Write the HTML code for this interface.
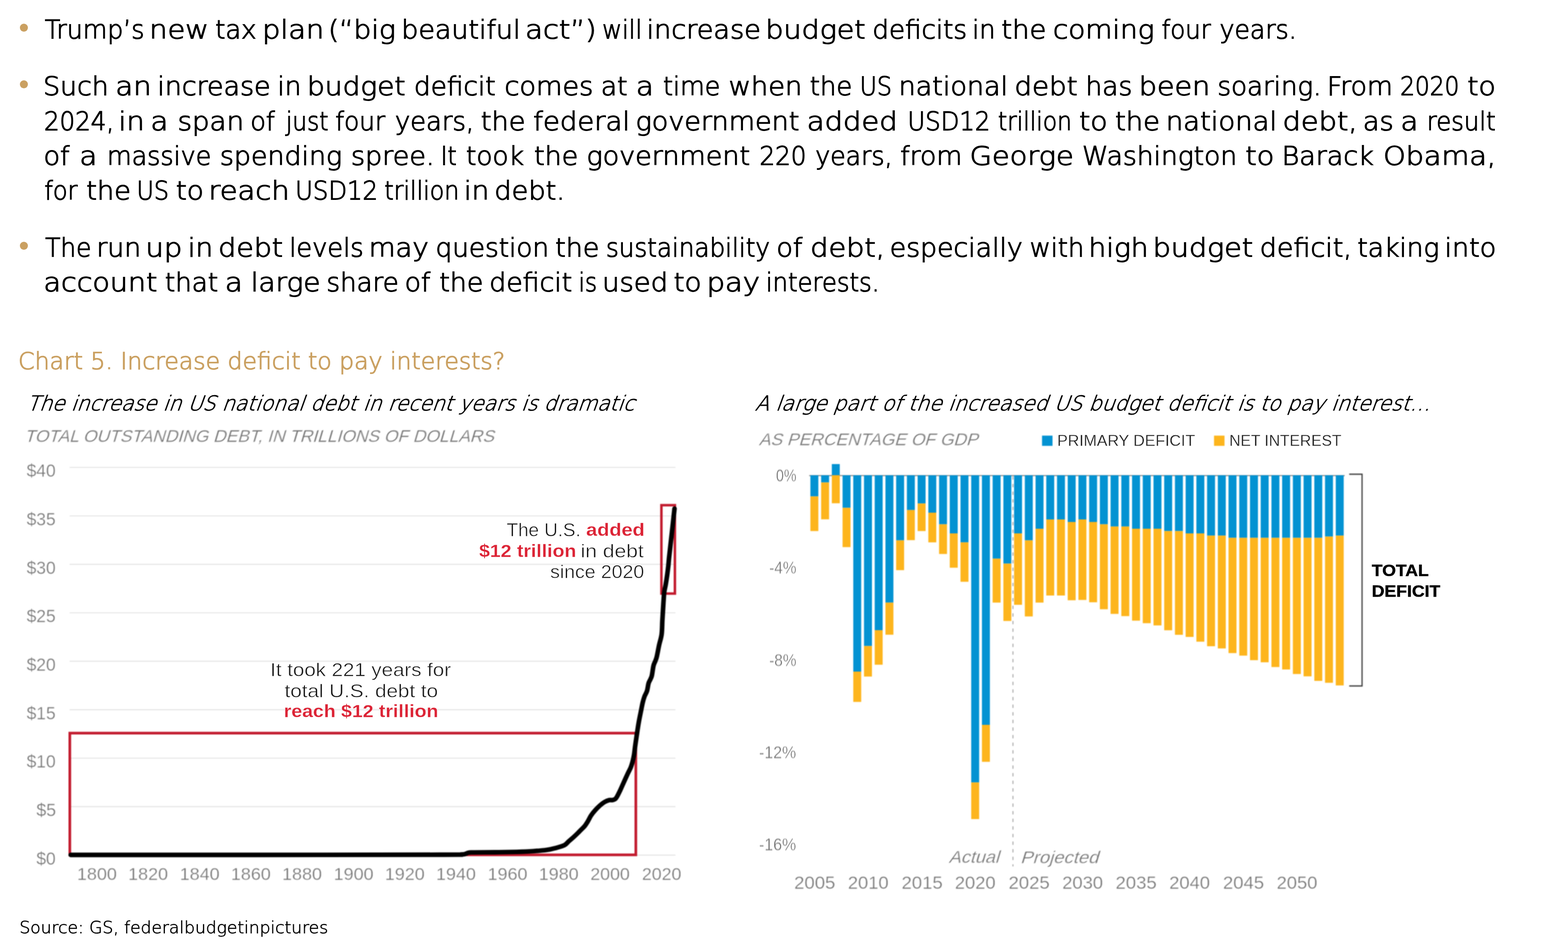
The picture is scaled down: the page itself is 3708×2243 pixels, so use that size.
<!DOCTYPE html>
<html lang="en">
<head>
<meta charset="utf-8">
<title>Chart 5. Increase deficit to pay interests?</title>
<style>
html,body{margin:0;padding:0;background:#fff}
body{width:3708px;height:2243px;position:relative;overflow:hidden;font-family:"Liberation Sans",sans-serif}
ul,li,h2,figure,figcaption,footer,p{margin:0;padding:0;list-style:none;font-weight:inherit;font-size:inherit}
.t{position:absolute;white-space:pre;line-height:1;transform-origin:0 0;display:block}
b{font-weight:700}
.b{font-family:'DejaVu Sans Light','DejaVu Sans','Liberation Sans',sans-serif;font-weight:200;font-size:61.2px;color:#000;-webkit-text-stroke:1.9px #000}
.dot{position:absolute;width:19.2px;height:19.2px;border-radius:50%;background:#caa061}
svg{position:absolute;left:0;top:0;overflow:visible;filter:blur(0.85px)}
</style>
</head>
<body>
<ul class="bullets">
<li><i class="dot" style="left:47.2px;top:55.7px"></i><span class="ln"><span class="t b" style="left:105.50px;top:38.90px;transform:scaleX(0.97280);">Trump’s</span> <span class="t b" style="left:353.33px;top:38.90px;transform:scaleX(1.11207);">new</span> <span class="t b" style="left:509.00px;top:38.90px;transform:scaleX(0.99787);">tax</span> <span class="t b" style="left:620.15px;top:38.90px;transform:scaleX(1.10826);">plan</span> <span class="t b" style="left:776.42px;top:38.90px;transform:scaleX(1.07986);">(“big</span> <span class="t b" style="left:948.76px;top:38.90px;transform:scaleX(1.03977);">beautiful</span> <span class="t b" style="left:1241.82px;top:38.90px;transform:scaleX(1.12000);">act”)</span> <span class="t b" style="left:1423.79px;top:38.90px;transform:scaleX(0.93696);">will</span> <span class="t b" style="left:1528.51px;top:38.90px;transform:scaleX(1.04798);">increase</span> <span class="t b" style="left:1810.09px;top:38.90px;transform:scaleX(1.10242);">budget</span> <span class="t b" style="left:2062.86px;top:38.90px;transform:scaleX(1.01028);">deficits</span> <span class="t b" style="left:2299.18px;top:38.90px;transform:scaleX(0.98636);">in</span> <span class="t b" style="left:2368.38px;top:38.90px;transform:scaleX(1.05895);">the</span> <span class="t b" style="left:2489.87px;top:38.90px;transform:scaleX(1.07512);">coming</span> <span class="t b" style="left:2746.51px;top:38.90px;transform:scaleX(0.94590);">four</span> <span class="t b" style="left:2883.86px;top:38.90px;transform:scaleX(0.97151);">years.</span></span>
</li>
<li><i class="dot" style="left:47.2px;top:190.1px"></i><span class="ln"><span class="t b" style="left:102.37px;top:172.80px;transform:scaleX(1.03256);">Such</span> <span class="t b" style="left:273.43px;top:172.80px;transform:scaleX(1.11778);">an</span> <span class="t b" style="left:372.37px;top:172.80px;transform:scaleX(1.03867);">increase</span> <span class="t b" style="left:655.91px;top:172.80px;transform:scaleX(1.01570);">in</span> <span class="t b" style="left:726.00px;top:172.80px;transform:scaleX(1.08401);">budget</span> <span class="t b" style="left:978.63px;top:172.80px;transform:scaleX(1.01734);">deficit</span> <span class="t b" style="left:1192.55px;top:172.80px;transform:scaleX(1.04892);">comes</span> <span class="t b" style="left:1420.91px;top:172.80px;transform:scaleX(1.02305);">at</span> <span class="t b" style="left:1503.62px;top:172.80px;transform:scaleX(1.12000);">a</span> <span class="t b" style="left:1568.04px;top:172.80px;transform:scaleX(0.97963);">time</span> <span class="t b" style="left:1722.94px;top:172.80px;transform:scaleX(1.05408);">when</span> <span class="t b" style="left:1915.40px;top:172.80px;transform:scaleX(0.99991);">the</span> <span class="t b" style="left:2032.74px;top:172.80px;transform:scaleX(0.91069);">US</span> <span class="t b" style="left:2125.14px;top:172.80px;transform:scaleX(1.04361);">national</span> <span class="t b" style="left:2399.22px;top:172.80px;transform:scaleX(1.07008);">debt</span> <span class="t b" style="left:2566.57px;top:172.80px;transform:scaleX(1.02112);">has</span> <span class="t b" style="left:2692.97px;top:172.80px;transform:scaleX(1.10487);">been</span> <span class="t b" style="left:2879.27px;top:172.80px;transform:scaleX(1.00851);">soaring.</span> <span class="t b" style="left:3137.93px;top:172.80px;transform:scaleX(1.02779);">From</span> <span class="t b" style="left:3311.10px;top:172.80px;transform:scaleX(0.90000);">2020</span> <span class="t b" style="left:3470.21px;top:172.80px;transform:scaleX(1.09286);">to</span></span>
<span class="ln"><span class="t b" style="left:103.86px;top:256.10px;transform:scaleX(0.94647);">2024,</span> <span class="t b" style="left:280.34px;top:256.10px;transform:scaleX(1.11063);">in</span> <span class="t b" style="left:355.52px;top:256.10px;transform:scaleX(1.12000);">a</span> <span class="t b" style="left:419.69px;top:256.10px;transform:scaleX(1.06883);">span</span> <span class="t b" style="left:591.68px;top:256.10px;transform:scaleX(0.97978);">of</span> <span class="t b" style="left:676.40px;top:256.10px;transform:scaleX(0.90000);">just</span> <span class="t b" style="left:793.48px;top:256.10px;transform:scaleX(0.95793);">four</span> <span class="t b" style="left:934.41px;top:256.10px;transform:scaleX(0.99591);">years,</span> <span class="t b" style="left:1136.70px;top:256.10px;transform:scaleX(1.05229);">the</span> <span class="t b" style="left:1260.77px;top:256.10px;transform:scaleX(1.06313);">federal</span> <span class="t b" style="left:1502.92px;top:256.10px;transform:scaleX(1.04430);">government</span> <span class="t b" style="left:1907.92px;top:256.10px;transform:scaleX(1.12000);">added</span> <span class="t b" style="left:2145.87px;top:256.10px;transform:scaleX(0.93822);">USD12</span> <span class="t b" style="left:2359.59px;top:256.10px;transform:scaleX(0.90467);">trillion</span> <span class="t b" style="left:2551.62px;top:256.10px;transform:scaleX(1.09228);">to</span> <span class="t b" style="left:2636.99px;top:256.10px;transform:scaleX(1.05545);">the</span> <span class="t b" style="left:2757.14px;top:256.10px;transform:scaleX(1.06046);">national</span> <span class="t b" style="left:3033.44px;top:256.10px;transform:scaleX(1.11600);">debt,</span> <span class="t b" style="left:3223.01px;top:256.10px;transform:scaleX(1.04787);">as</span> <span class="t b" style="left:3311.82px;top:256.10px;transform:scaleX(1.12000);">a</span> <span class="t b" style="left:3373.55px;top:256.10px;transform:scaleX(0.94121);">result</span></span>
<span class="ln"><span class="t b" style="left:103.03px;top:338.20px;transform:scaleX(1.04225);">of</span> <span class="t b" style="left:188.32px;top:338.20px;transform:scaleX(1.12000);">a</span> <span class="t b" style="left:253.42px;top:338.20px;transform:scaleX(0.97961);">massive</span> <span class="t b" style="left:520.49px;top:338.20px;transform:scaleX(1.03811);">spending</span> <span class="t b" style="left:830.07px;top:338.20px;transform:scaleX(1.04339);">spree.</span> <span class="t b" style="left:1041.80px;top:338.20px;transform:scaleX(0.90000);">It</span> <span class="t b" style="left:1101.56px;top:338.20px;transform:scaleX(1.01944);">took</span> <span class="t b" style="left:1263.32px;top:338.20px;transform:scaleX(1.03859);">the</span> <span class="t b" style="left:1387.13px;top:338.20px;transform:scaleX(1.04265);">government</span> <span class="t b" style="left:1796.25px;top:338.20px;transform:scaleX(0.95106);">220</span> <span class="t b" style="left:1928.05px;top:338.20px;transform:scaleX(0.97299);">years,</span> <span class="t b" style="left:2129.34px;top:338.20px;transform:scaleX(1.02864);">from</span> <span class="t b" style="left:2293.04px;top:338.20px;transform:scaleX(1.11439);">George</span> <span class="t b" style="left:2559.02px;top:338.20px;transform:scaleX(1.02569);">Washington</span> <span class="t b" style="left:2945.07px;top:338.20px;transform:scaleX(1.11368);">to</span> <span class="t b" style="left:3030.67px;top:338.20px;transform:scaleX(1.03875);">Barack</span> <span class="t b" style="left:3270.57px;top:338.20px;transform:scaleX(1.10696);">Obama,</span></span>
<span class="ln"><span class="t b" style="left:105.34px;top:419.80px;transform:scaleX(0.93012);">for</span> <span class="t b" style="left:204.30px;top:419.80px;transform:scaleX(1.05053);">the</span> <span class="t b" style="left:322.71px;top:419.80px;transform:scaleX(0.91486);">US</span> <span class="t b" style="left:415.76px;top:419.80px;transform:scaleX(1.07143);">to</span> <span class="t b" style="left:493.18px;top:419.80px;transform:scaleX(1.12000);">reach</span> <span class="t b" style="left:697.67px;top:419.80px;transform:scaleX(0.93889);">USD12</span> <span class="t b" style="left:909.37px;top:419.80px;transform:scaleX(0.91613);">trillion</span> <span class="t b" style="left:1097.14px;top:419.80px;transform:scaleX(1.07727);">in</span> <span class="t b" style="left:1168.79px;top:419.80px;transform:scaleX(1.05135);">debt.</span></span>
</li>
<li><i class="dot" style="left:47.2px;top:571.6px"></i><span class="ln"><span class="t b" style="left:106.50px;top:554.70px;transform:scaleX(0.95812);">The</span> <span class="t b" style="left:227.93px;top:554.70px;transform:scaleX(1.02850);">run</span> <span class="t b" style="left:344.30px;top:554.70px;transform:scaleX(1.12000);">up</span> <span class="t b" style="left:444.15px;top:554.70px;transform:scaleX(1.07484);">in</span> <span class="t b" style="left:515.70px;top:554.70px;transform:scaleX(1.09995);">debt</span> <span class="t b" style="left:683.75px;top:554.70px;transform:scaleX(0.99163);">levels</span> <span class="t b" style="left:872.12px;top:554.70px;transform:scaleX(1.06315);">may</span> <span class="t b" style="left:1029.54px;top:554.70px;transform:scaleX(1.01566);">question</span> <span class="t b" style="left:1312.72px;top:554.70px;transform:scaleX(1.03782);">the</span> <span class="t b" style="left:1432.74px;top:554.70px;transform:scaleX(0.95172);">sustainability</span> <span class="t b" style="left:1836.24px;top:554.70px;transform:scaleX(1.04095);">of</span> <span class="t b" style="left:1916.45px;top:554.70px;transform:scaleX(1.11212);">debt,</span> <span class="t b" style="left:2103.57px;top:554.70px;transform:scaleX(1.03320);">especially</span> <span class="t b" style="left:2434.82px;top:554.70px;transform:scaleX(0.99333);">with</span> <span class="t b" style="left:2573.71px;top:554.70px;transform:scaleX(1.08244);">high</span> <span class="t b" style="left:2725.68px;top:554.70px;transform:scaleX(1.10383);">budget</span> <span class="t b" style="left:2978.83px;top:554.70px;transform:scaleX(1.04239);">deficit,</span> <span class="t b" style="left:3209.55px;top:554.70px;transform:scaleX(1.02279);">taking</span> <span class="t b" style="left:3415.75px;top:554.70px;transform:scaleX(1.04206);">into</span></span>
<span class="ln"><span class="t b" style="left:102.79px;top:636.80px;transform:scaleX(1.10294);">account</span> <span class="t b" style="left:389.68px;top:636.80px;transform:scaleX(1.01240);">that</span> <span class="t b" style="left:531.72px;top:636.80px;transform:scaleX(1.12000);">a</span> <span class="t b" style="left:592.63px;top:636.80px;transform:scaleX(1.07832);">large</span> <span class="t b" style="left:772.28px;top:636.80px;transform:scaleX(1.00798);">share</span> <span class="t b" style="left:957.49px;top:636.80px;transform:scaleX(1.02679);">of</span> <span class="t b" style="left:1039.03px;top:636.80px;transform:scaleX(1.03579);">the</span> <span class="t b" style="left:1157.37px;top:636.80px;transform:scaleX(1.03370);">deficit</span> <span class="t b" style="left:1368.30px;top:636.80px;transform:scaleX(0.90000);">is</span> <span class="t b" style="left:1423.80px;top:636.80px;transform:scaleX(1.05956);">used</span> <span class="t b" style="left:1593.05px;top:636.80px;transform:scaleX(1.07321);">to</span> <span class="t b" style="left:1670.58px;top:636.80px;transform:scaleX(1.12000);">pay</span> <span class="t b" style="left:1811.06px;top:636.80px;transform:scaleX(0.93956);">interests.</span></span>
</li>
</ul>
<h2><span class="t" style="left:42.68px;top:827.20px;font-family:'DejaVu Sans Light','DejaVu Sans','Liberation Sans',sans-serif;font-weight:200;font-size:55.4px;color:#caa061;-webkit-text-stroke:1.7px #caa061;transform:scaleX(1.00572);">Chart 5. Increase deficit to pay interests?</span></h2>
<figure class="chart-left">
<figcaption><span class="t" style="left:78.48px;top:930.00px;font-family:'DejaVu Sans Light','DejaVu Sans','Liberation Sans',sans-serif;font-weight:200;font-size:48.3px;color:#000;-webkit-text-stroke:1.25px #000;transform:scaleX(0.99182) skewX(-20deg);">The increase in US national debt in recent years is dramatic</span></figcaption>
<span class="t" style="left:67.02px;top:1013.00px;font-family:'Liberation Sans',sans-serif;font-weight:400;font-size:40.2px;color:#6f6f6f;-webkit-text-stroke:0.7px #fff;transform:scaleX(1.02324) skewX(-16deg);filter:blur(0.85px);">TOTAL OUTSTANDING DEBT, IN TRILLIONS OF DOLLARS</span>
<svg width="3708" height="2243" viewBox="0 0 3708 2243">
<g fill="none" stroke="#dedede" stroke-width="1.9"><path d="M164.6 1105.9H1597.4"/><path d="M164.6 1220.6H1597.4"/><path d="M164.6 1335.2H1597.4"/><path d="M164.6 1449.9H1597.4"/><path d="M164.6 1564.5H1597.4"/><path d="M164.6 1679.2H1597.4"/><path d="M164.6 1793.9H1597.4"/><path d="M164.6 1908.5H1597.4"/><path d="M164.6 2023.2H1597.4"/></g>
<rect x="165.1" y="1734.6" width="1338.5" height="288.0" fill="none" stroke="#c21b2e" stroke-width="6.3"/>
<rect x="1564.1" y="1195.3" width="31.9" height="209.1" fill="none" stroke="#c21b2e" stroke-width="5.9"/>
<path d="M167.2 2022.7C239.3 2022.7 454.5 2022.8 600.0 2022.7C745.5 2022.6 958.0 2022.5 1040.0 2022.3C1122.0 2022.1 1081.5 2022.1 1091.9 2021.7C1102.3 2021.3 1098.6 2020.5 1102.3 2019.7C1106.0 2018.9 1102.7 2017.4 1114.0 2016.9C1125.3 2016.4 1151.9 2016.7 1169.9 2016.5C1187.9 2016.3 1206.7 2016.0 1221.8 2015.6C1236.9 2015.2 1248.9 2014.7 1260.8 2013.9C1272.7 2013.1 1284.5 2012.1 1293.2 2010.9C1301.9 2009.7 1305.8 2008.7 1312.7 2006.8C1319.6 2004.9 1329.4 2002.3 1334.8 1999.6C1340.2 1996.9 1341.5 1993.6 1345.0 1990.5C1348.5 1987.4 1352.3 1984.3 1356.0 1981.0C1359.7 1977.7 1364.1 1973.4 1367.0 1970.5C1369.9 1967.6 1370.9 1966.4 1373.5 1963.8C1376.1 1961.2 1379.8 1958.0 1382.5 1954.7C1385.2 1951.4 1387.2 1948.0 1389.8 1943.8C1392.4 1939.6 1394.9 1933.8 1397.9 1929.3C1400.9 1924.8 1404.4 1920.6 1407.9 1916.7C1411.4 1912.8 1415.2 1909.0 1418.8 1905.8C1422.4 1902.6 1426.0 1899.7 1429.6 1897.6C1433.2 1895.5 1437.5 1893.8 1440.5 1893.1C1443.5 1892.3 1445.4 1893.5 1447.8 1893.1C1450.2 1892.6 1453.0 1891.9 1455.0 1890.4C1457.0 1888.9 1457.5 1887.6 1459.5 1884.1C1461.5 1880.6 1464.2 1875.0 1466.8 1869.6C1469.4 1864.1 1472.0 1857.8 1474.9 1851.4C1477.8 1845.1 1481.2 1837.5 1484.0 1831.5C1486.8 1825.5 1489.8 1820.3 1491.8 1815.2C1493.8 1810.1 1495.0 1805.5 1496.3 1800.7C1497.6 1795.9 1498.5 1791.6 1499.4 1786.2C1500.3 1780.8 1501.0 1773.3 1501.7 1768.1C1502.4 1762.9 1502.7 1760.6 1503.5 1755.0C1504.3 1749.4 1505.3 1742.5 1506.5 1734.6C1507.7 1726.7 1509.1 1716.6 1510.8 1707.4C1512.5 1698.2 1514.9 1686.8 1516.4 1679.3C1517.9 1671.8 1518.6 1667.4 1519.9 1662.1C1521.2 1656.8 1522.5 1652.1 1524.2 1647.6C1525.9 1643.1 1528.4 1640.0 1530.0 1634.9C1531.6 1629.8 1532.4 1621.3 1533.7 1616.8C1535.0 1612.3 1536.5 1610.8 1537.8 1607.8C1539.1 1604.8 1540.1 1604.2 1541.4 1598.7C1542.7 1593.2 1544.0 1580.8 1545.4 1575.1C1546.8 1569.4 1548.3 1567.9 1549.6 1564.3C1550.9 1560.7 1551.7 1559.8 1553.2 1553.4C1554.7 1547.1 1556.8 1535.0 1558.7 1526.2C1560.6 1517.5 1563.3 1510.5 1564.6 1500.9C1565.9 1491.3 1565.8 1477.7 1566.3 1468.8C1566.8 1459.9 1567.2 1454.4 1567.6 1447.3C1568.0 1440.2 1568.4 1433.1 1568.9 1425.9C1569.4 1418.8 1569.9 1409.8 1570.4 1404.4C1570.9 1399.0 1571.4 1397.3 1572.1 1393.7C1572.8 1390.1 1573.4 1388.3 1574.3 1382.9C1575.2 1377.5 1576.6 1368.7 1577.6 1361.5C1578.6 1354.3 1579.5 1347.1 1580.3 1340.0C1581.1 1332.9 1581.2 1329.5 1582.3 1318.8C1583.4 1308.1 1585.5 1290.2 1587.1 1275.9C1588.7 1261.6 1590.6 1245.0 1591.9 1232.9C1593.2 1220.8 1594.6 1208.3 1595.1 1203.4" fill="none" stroke="#000" stroke-width="10.9" stroke-linejoin="round" stroke-linecap="round"/>
</svg>
<span class="t" style="left:63.42px;top:1093.30px;font-family:'Liberation Sans',sans-serif;font-weight:400;font-size:42px;color:#6f6f6f;-webkit-text-stroke:0.7px #fff;transform:scaleX(0.97910);filter:blur(0.85px);">$40</span><span class="t" style="left:63.42px;top:1207.96px;font-family:'Liberation Sans',sans-serif;font-weight:400;font-size:42px;color:#6f6f6f;-webkit-text-stroke:0.7px #fff;transform:scaleX(0.97910);filter:blur(0.85px);">$35</span><span class="t" style="left:63.42px;top:1322.62px;font-family:'Liberation Sans',sans-serif;font-weight:400;font-size:42px;color:#6f6f6f;-webkit-text-stroke:0.7px #fff;transform:scaleX(0.97910);filter:blur(0.85px);">$30</span><span class="t" style="left:63.42px;top:1437.28px;font-family:'Liberation Sans',sans-serif;font-weight:400;font-size:42px;color:#6f6f6f;-webkit-text-stroke:0.7px #fff;transform:scaleX(0.97910);filter:blur(0.85px);">$25</span><span class="t" style="left:63.42px;top:1551.94px;font-family:'Liberation Sans',sans-serif;font-weight:400;font-size:42px;color:#6f6f6f;-webkit-text-stroke:0.7px #fff;transform:scaleX(0.97910);filter:blur(0.85px);">$20</span><span class="t" style="left:63.42px;top:1666.60px;font-family:'Liberation Sans',sans-serif;font-weight:400;font-size:42px;color:#6f6f6f;-webkit-text-stroke:0.7px #fff;transform:scaleX(0.97910);filter:blur(0.85px);">$15</span><span class="t" style="left:63.42px;top:1781.26px;font-family:'Liberation Sans',sans-serif;font-weight:400;font-size:42px;color:#6f6f6f;-webkit-text-stroke:0.7px #fff;transform:scaleX(0.97910);filter:blur(0.85px);">$10</span><span class="t" style="left:86.00px;top:1895.92px;font-family:'Liberation Sans',sans-serif;font-weight:400;font-size:42px;color:#6f6f6f;-webkit-text-stroke:0.7px #fff;filter:blur(0.85px);">$5</span><span class="t" style="left:86.02px;top:2010.58px;font-family:'Liberation Sans',sans-serif;font-weight:400;font-size:42px;color:#6f6f6f;-webkit-text-stroke:0.7px #fff;transform:scaleX(0.97727);filter:blur(0.85px);">$0</span>
<span class="t" style="left:181.83px;top:2047.20px;font-family:'Liberation Sans',sans-serif;font-weight:400;font-size:41.5px;color:#6f6f6f;-webkit-text-stroke:0.7px #fff;transform:scaleX(1.02299);filter:blur(0.85px);">1800</span><span class="t" style="left:303.19px;top:2047.20px;font-family:'Liberation Sans',sans-serif;font-weight:400;font-size:41.5px;color:#6f6f6f;-webkit-text-stroke:0.7px #fff;transform:scaleX(1.02299);filter:blur(0.85px);">1820</span><span class="t" style="left:424.55px;top:2047.20px;font-family:'Liberation Sans',sans-serif;font-weight:400;font-size:41.5px;color:#6f6f6f;-webkit-text-stroke:0.7px #fff;transform:scaleX(1.02299);filter:blur(0.85px);">1840</span><span class="t" style="left:545.91px;top:2047.20px;font-family:'Liberation Sans',sans-serif;font-weight:400;font-size:41.5px;color:#6f6f6f;-webkit-text-stroke:0.7px #fff;transform:scaleX(1.02299);filter:blur(0.85px);">1860</span><span class="t" style="left:667.27px;top:2047.20px;font-family:'Liberation Sans',sans-serif;font-weight:400;font-size:41.5px;color:#6f6f6f;-webkit-text-stroke:0.7px #fff;transform:scaleX(1.02299);filter:blur(0.85px);">1880</span><span class="t" style="left:788.63px;top:2047.20px;font-family:'Liberation Sans',sans-serif;font-weight:400;font-size:41.5px;color:#6f6f6f;-webkit-text-stroke:0.7px #fff;transform:scaleX(1.02299);filter:blur(0.85px);">1900</span><span class="t" style="left:909.99px;top:2047.20px;font-family:'Liberation Sans',sans-serif;font-weight:400;font-size:41.5px;color:#6f6f6f;-webkit-text-stroke:0.7px #fff;transform:scaleX(1.02299);filter:blur(0.85px);">1920</span><span class="t" style="left:1031.35px;top:2047.20px;font-family:'Liberation Sans',sans-serif;font-weight:400;font-size:41.5px;color:#6f6f6f;-webkit-text-stroke:0.7px #fff;transform:scaleX(1.02299);filter:blur(0.85px);">1940</span><span class="t" style="left:1152.71px;top:2047.20px;font-family:'Liberation Sans',sans-serif;font-weight:400;font-size:41.5px;color:#6f6f6f;-webkit-text-stroke:0.7px #fff;transform:scaleX(1.02299);filter:blur(0.85px);">1960</span><span class="t" style="left:1274.07px;top:2047.20px;font-family:'Liberation Sans',sans-serif;font-weight:400;font-size:41.5px;color:#6f6f6f;-webkit-text-stroke:0.7px #fff;transform:scaleX(1.02299);filter:blur(0.85px);">1980</span><span class="t" style="left:1396.48px;top:2047.20px;font-family:'Liberation Sans',sans-serif;font-weight:400;font-size:41.5px;color:#6f6f6f;-webkit-text-stroke:0.7px #fff;transform:scaleX(1.01136);filter:blur(0.85px);">2000</span><span class="t" style="left:1517.84px;top:2047.20px;font-family:'Liberation Sans',sans-serif;font-weight:400;font-size:41.5px;color:#6f6f6f;-webkit-text-stroke:0.7px #fff;transform:scaleX(1.01136);filter:blur(0.85px);">2020</span>
<p><span class="t" style="left:1198.29px;top:1232.30px;font-family:'Liberation Sans',sans-serif;font-weight:400;font-size:44.2px;color:#1a1a1a;-webkit-text-stroke:0.9px #fff;transform:scaleX(1.00533);">The U.S.</span> <b class="t" style="left:1386.49px;top:1233.30px;font-family:'Liberation Sans',sans-serif;font-weight:700;font-size:42.5px;color:#dc2335;-webkit-text-stroke:0.4px #fff;transform:scaleX(1.10744);">added</b> <b class="t" style="left:1132.52px;top:1282.60px;font-family:'Liberation Sans',sans-serif;font-weight:700;font-size:42.5px;color:#dc2335;-webkit-text-stroke:0.4px #fff;transform:scaleX(1.08086);">$12 trillion</b> <span class="t" style="left:1373.13px;top:1281.60px;font-family:'Liberation Sans',sans-serif;font-weight:400;font-size:44.2px;color:#1a1a1a;-webkit-text-stroke:0.9px #fff;transform:scaleX(1.12481);">in debt</span> <span class="t" style="left:1301.12px;top:1330.50px;font-family:'Liberation Sans',sans-serif;font-weight:400;font-size:44.2px;color:#1a1a1a;-webkit-text-stroke:0.9px #fff;transform:scaleX(1.04000);">since 2020</span></p>
<p><span class="t" style="left:639.42px;top:1563.00px;font-family:'Liberation Sans',sans-serif;font-weight:400;font-size:44.2px;color:#1a1a1a;-webkit-text-stroke:0.9px #fff;transform:scaleX(1.09481);">It took 221 years for</span> <span class="t" style="left:672.90px;top:1612.70px;font-family:'Liberation Sans',sans-serif;font-weight:400;font-size:44.2px;color:#1a1a1a;-webkit-text-stroke:0.9px #fff;transform:scaleX(1.10245);">total U.S. debt to</span> <b class="t" style="left:670.75px;top:1662.40px;font-family:'Liberation Sans',sans-serif;font-weight:700;font-size:42.5px;color:#dc2335;-webkit-text-stroke:0.4px #fff;transform:scaleX(1.08253);">reach $12 trillion</b></p>
</figure>
<figure class="chart-right">
<figcaption><span class="t" style="left:1800.04px;top:930.00px;font-family:'DejaVu Sans Light','DejaVu Sans','Liberation Sans',sans-serif;font-weight:200;font-size:48.3px;color:#000;-webkit-text-stroke:1.25px #000;transform:scaleX(1.00315) skewX(-20deg);">A large part of the increased US budget deficit is to pay interest…</span></figcaption>
<span class="t" style="left:1804.29px;top:1019.60px;font-family:'Liberation Sans',sans-serif;font-weight:400;font-size:40px;color:#6f6f6f;-webkit-text-stroke:0.7px #fff;transform:scaleX(1.03214) skewX(-16deg);filter:blur(0.85px);">AS PERCENTAGE OF GDP</span>
<svg width="3708" height="2243" viewBox="0 0 3708 2243">
<rect x="2464.2" y="1030.7" width="24.8" height="24.2" fill="#0392d2"/>
<rect x="2870.9" y="1030.7" width="24.8" height="24.2" fill="#fdb51d"/>
<path d="M1913.5 1125.3H3180" stroke="#8a8a8a" stroke-width="2.6" fill="none"/>
<path d="M1916.4 1124.4h18.8V1174.6h-18.8zM1941.8 1124.4h18.8V1141.6h-18.8zM1967.1 1098.1h18.8V1124.4h-18.8zM1992.5 1124.4h18.8V1201.4h-18.8zM2017.8 1124.4h18.8V1589.0h-18.8zM2043.2 1124.4h18.8V1528.5h-18.8zM2068.5 1124.4h18.8V1490.9h-18.8zM2093.9 1124.4h18.8V1425.7h-18.8zM2119.2 1124.4h18.8V1278.5h-18.8zM2144.6 1124.4h18.8V1206.8h-18.8zM2170.0 1124.4h18.8V1191.2h-18.8zM2195.3 1124.4h18.8V1213.0h-18.8zM2220.7 1124.4h18.8V1240.4h-18.8zM2246.0 1124.4h18.8V1261.9h-18.8zM2271.4 1124.4h18.8V1283.3h-18.8zM2296.7 1124.4h18.8V1851.3h-18.8zM2322.1 1124.4h18.8V1714.9h-18.8zM2347.4 1124.4h18.8V1321.7h-18.8zM2372.8 1124.4h18.8V1333.6h-18.8zM2398.1 1124.4h18.8V1261.9h-18.8zM2423.5 1124.4h18.8V1278.5h-18.8zM2448.9 1124.4h18.8V1251.1h-18.8zM2474.2 1124.4h18.8V1229.1h-18.8zM2499.6 1124.4h18.8V1229.1h-18.8zM2524.9 1124.4h18.8V1235.0h-18.8zM2550.3 1124.4h18.8V1229.1h-18.8zM2575.6 1124.4h18.8V1235.0h-18.8zM2601.0 1124.4h18.8V1240.4h-18.8zM2626.3 1124.4h18.8V1245.7h-18.8zM2651.7 1124.4h18.8V1245.7h-18.8zM2677.1 1124.4h18.8V1251.1h-18.8zM2702.4 1124.4h18.8V1251.1h-18.8zM2727.8 1124.4h18.8V1251.1h-18.8zM2753.1 1124.4h18.8V1256.5h-18.8zM2778.5 1124.4h18.8V1256.5h-18.8zM2803.8 1124.4h18.8V1261.9h-18.8zM2829.2 1124.4h18.8V1261.9h-18.8zM2854.5 1124.4h18.8V1267.2h-18.8zM2879.9 1124.4h18.8V1267.2h-18.8zM2905.2 1124.4h18.8V1272.6h-18.8zM2930.6 1124.4h18.8V1272.6h-18.8zM2956.0 1124.4h18.8V1272.6h-18.8zM2981.3 1124.4h18.8V1272.6h-18.8zM3006.7 1124.4h18.8V1272.6h-18.8zM3032.0 1124.4h18.8V1272.6h-18.8zM3057.4 1124.4h18.8V1272.6h-18.8zM3082.7 1124.4h18.8V1272.6h-18.8zM3108.1 1124.4h18.8V1272.6h-18.8zM3133.4 1124.4h18.8V1269.4h-18.8zM3158.8 1124.4h18.8V1267.2h-18.8z" fill="#0392d2"/>
<path d="M1916.4 1174.6h18.8V1256.5h-18.8zM1941.8 1141.6h18.8V1228.8h-18.8zM1967.1 1124.4h18.8V1190.7h-18.8zM1992.5 1201.4h18.8V1294.6h-18.8zM2017.8 1589.0h18.8V1660.7h-18.8zM2043.2 1528.5h18.8V1600.8h-18.8zM2068.5 1490.9h18.8V1572.8h-18.8zM2093.9 1425.7h18.8V1501.7h-18.8zM2119.2 1278.5h18.8V1349.1h-18.8zM2144.6 1206.8h18.8V1278.0h-18.8zM2170.0 1191.2h18.8V1256.5h-18.8zM2195.3 1213.0h18.8V1283.3h-18.8zM2220.7 1240.4h18.8V1310.7h-18.8zM2246.0 1261.9h18.8V1343.2h-18.8zM2271.4 1283.3h18.8V1376.5h-18.8zM2296.7 1851.3h18.8V1938.0h-18.8zM2322.1 1714.9h18.8V1802.4h-18.8zM2347.4 1321.7h18.8V1425.7h-18.8zM2372.8 1333.6h18.8V1469.2h-18.8zM2398.1 1261.9h18.8V1431.0h-18.8zM2423.5 1278.5h18.8V1458.4h-18.8zM2448.9 1251.1h18.8V1425.7h-18.8zM2474.2 1229.1h18.8V1409.0h-18.8zM2499.6 1229.1h18.8V1409.0h-18.8zM2524.9 1235.0h18.8V1420.3h-18.8zM2550.3 1229.1h18.8V1419.6h-18.8zM2575.6 1235.0h18.8V1425.0h-18.8zM2601.0 1240.4h18.8V1441.6h-18.8zM2626.3 1245.7h18.8V1452.6h-18.8zM2651.7 1245.7h18.8V1457.7h-18.8zM2677.1 1251.1h18.8V1468.5h-18.8zM2702.4 1251.1h18.8V1474.4h-18.8zM2727.8 1251.1h18.8V1479.8h-18.8zM2753.1 1256.5h18.8V1491.3h-18.8zM2778.5 1256.5h18.8V1502.0h-18.8zM2803.8 1261.9h18.8V1506.9h-18.8zM2829.2 1261.9h18.8V1518.2h-18.8zM2854.5 1267.2h18.8V1528.9h-18.8zM2879.9 1267.2h18.8V1534.3h-18.8zM2905.2 1272.6h18.8V1545.3h-18.8zM2930.6 1272.6h18.8V1551.2h-18.8zM2956.0 1272.6h18.8V1561.9h-18.8zM2981.3 1272.6h18.8V1567.0h-18.8zM3006.7 1272.6h18.8V1578.3h-18.8zM3032.0 1272.6h18.8V1583.9h-18.8zM3057.4 1272.6h18.8V1594.7h-18.8zM3082.7 1272.6h18.8V1600.3h-18.8zM3108.1 1272.6h18.8V1611.1h-18.8zM3133.4 1269.4h18.8V1615.4h-18.8zM3158.8 1267.2h18.8V1621.8h-18.8z" fill="#fdb51d"/>
<path d="M2395.4 1127V2050" stroke="#b4b4b4" stroke-width="2.8" stroke-dasharray="8 10" fill="none"/>
<path d="M3190.6 1122H3221V1623H3190.6" stroke="#3c3c3c" stroke-width="2.9" fill="none"/>
</svg>
<span class="t" style="left:2499.67px;top:1024.90px;font-family:'Liberation Sans',sans-serif;font-weight:400;font-size:36px;color:#262626;-webkit-text-stroke:0.35px #fff;transform:scaleX(1.04272);">PRIMARY DEFICIT</span><span class="t" style="left:2906.73px;top:1024.90px;font-family:'Liberation Sans',sans-serif;font-weight:400;font-size:36px;color:#262626;-webkit-text-stroke:0.35px #fff;transform:scaleX(1.02266);">NET INTEREST</span>
<span class="t" style="left:1834.65px;top:1105.00px;font-family:'Liberation Sans',sans-serif;font-weight:400;font-size:40.5px;color:#6f6f6f;-webkit-text-stroke:0.7px #fff;transform:scaleX(0.82727);filter:blur(0.85px);">0%</span><span class="t" style="left:1819.21px;top:1323.35px;font-family:'Liberation Sans',sans-serif;font-weight:400;font-size:40.5px;color:#6f6f6f;-webkit-text-stroke:0.7px #fff;transform:scaleX(0.89412);filter:blur(0.85px);">-4%</span><span class="t" style="left:1819.21px;top:1541.70px;font-family:'Liberation Sans',sans-serif;font-weight:400;font-size:40.5px;color:#6f6f6f;-webkit-text-stroke:0.7px #fff;transform:scaleX(0.89412);filter:blur(0.85px);">-8%</span><span class="t" style="left:1795.44px;top:1760.05px;font-family:'Liberation Sans',sans-serif;font-weight:400;font-size:40.5px;color:#6f6f6f;-webkit-text-stroke:0.7px #fff;transform:scaleX(0.92857);filter:blur(0.85px);">-12%</span><span class="t" style="left:1795.44px;top:1978.40px;font-family:'Liberation Sans',sans-serif;font-weight:400;font-size:40.5px;color:#6f6f6f;-webkit-text-stroke:0.7px #fff;transform:scaleX(0.92857);filter:blur(0.85px);">-16%</span>
<span class="t" style="left:1878.06px;top:2067.20px;font-family:'Liberation Sans',sans-serif;font-weight:400;font-size:43px;color:#6f6f6f;-webkit-text-stroke:0.7px #fff;transform:scaleX(1.01758);filter:blur(0.85px);">2005</span><span class="t" style="left:2004.81px;top:2067.20px;font-family:'Liberation Sans',sans-serif;font-weight:400;font-size:43px;color:#6f6f6f;-webkit-text-stroke:0.7px #fff;transform:scaleX(1.00652);filter:blur(0.85px);">2010</span><span class="t" style="left:2131.50px;top:2067.20px;font-family:'Liberation Sans',sans-serif;font-weight:400;font-size:43px;color:#6f6f6f;-webkit-text-stroke:0.7px #fff;transform:scaleX(1.01758);filter:blur(0.85px);">2015</span><span class="t" style="left:2258.25px;top:2067.20px;font-family:'Liberation Sans',sans-serif;font-weight:400;font-size:43px;color:#6f6f6f;-webkit-text-stroke:0.7px #fff;transform:scaleX(1.00652);filter:blur(0.85px);">2020</span><span class="t" style="left:2384.94px;top:2067.20px;font-family:'Liberation Sans',sans-serif;font-weight:400;font-size:43px;color:#6f6f6f;-webkit-text-stroke:0.7px #fff;transform:scaleX(1.01758);filter:blur(0.85px);">2025</span><span class="t" style="left:2511.69px;top:2067.20px;font-family:'Liberation Sans',sans-serif;font-weight:400;font-size:43px;color:#6f6f6f;-webkit-text-stroke:0.7px #fff;transform:scaleX(1.00652);filter:blur(0.85px);">2030</span><span class="t" style="left:2638.38px;top:2067.20px;font-family:'Liberation Sans',sans-serif;font-weight:400;font-size:43px;color:#6f6f6f;-webkit-text-stroke:0.7px #fff;transform:scaleX(1.01758);filter:blur(0.85px);">2035</span><span class="t" style="left:2765.13px;top:2067.20px;font-family:'Liberation Sans',sans-serif;font-weight:400;font-size:43px;color:#6f6f6f;-webkit-text-stroke:0.7px #fff;transform:scaleX(1.00652);filter:blur(0.85px);">2040</span><span class="t" style="left:2891.82px;top:2067.20px;font-family:'Liberation Sans',sans-serif;font-weight:400;font-size:43px;color:#6f6f6f;-webkit-text-stroke:0.7px #fff;transform:scaleX(1.01758);filter:blur(0.85px);">2045</span><span class="t" style="left:3018.57px;top:2067.20px;font-family:'Liberation Sans',sans-serif;font-weight:400;font-size:43px;color:#6f6f6f;-webkit-text-stroke:0.7px #fff;transform:scaleX(1.00652);filter:blur(0.85px);">2050</span>
<span class="t" style="left:2253.13px;top:2008.30px;font-family:'Liberation Sans',sans-serif;font-weight:400;font-size:41.3px;color:#6f6f6f;-webkit-text-stroke:0.7px #fff;transform:scaleX(1.03613) skewX(-16deg);filter:blur(0.85px);">Actual</span><span class="t" style="left:2423.14px;top:2008.40px;font-family:'Liberation Sans',sans-serif;font-weight:400;font-size:41.3px;color:#6f6f6f;-webkit-text-stroke:0.7px #fff;transform:scaleX(1.05625) skewX(-16deg);filter:blur(0.85px);">Projected</span>
<p><span class="t" style="left:3243.60px;top:1330.30px;font-family:'Liberation Sans',sans-serif;font-weight:700;font-size:39.6px;color:#000;-webkit-text-stroke:0.7px #000;transform:scaleX(1.05039);">TOTAL</span><span class="t" style="left:3243.89px;top:1379.00px;font-family:'Liberation Sans',sans-serif;font-weight:700;font-size:39.6px;color:#000;-webkit-text-stroke:0.7px #000;transform:scaleX(1.05263);">DEFICIT</span></p>
</figure>
<footer><span class="t" style="left:46.41px;top:2175.40px;font-family:'DejaVu Sans Light','DejaVu Sans','Liberation Sans',sans-serif;font-weight:200;font-size:39.2px;color:#000;-webkit-text-stroke:1.0px #000;transform:scaleX(1.02969);">Source: GS, federalbudgetinpictures</span></footer>
</body>
</html>
